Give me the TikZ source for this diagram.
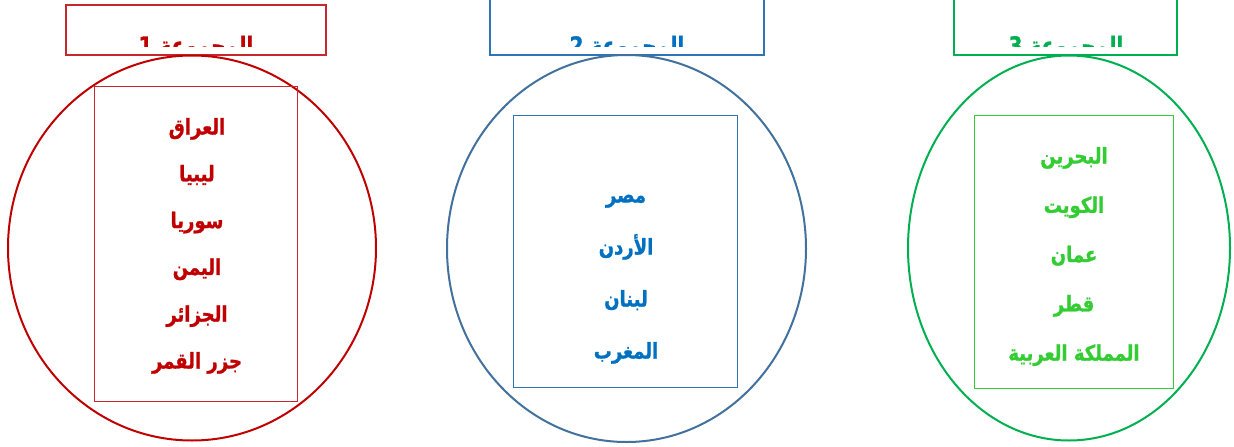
\documentclass[tikz,border=0pt]{standalone}
\usepackage{fontspec}
\usepackage{graphicx}
\newfontfamily\arabicfont[Script=Arabic, BoldFeatures={FakeBold=1.2}]{DejaVu Sans}
\TeXXeTstate=1
\usetikzlibrary{shapes.geometric}

\definecolor{grpred}{HTML}{C00000}
\definecolor{grpredbox}{HTML}{C8282D}
\definecolor{grpblue}{HTML}{0070C0}
\definecolor{grpbluebox}{HTML}{2E75B6}
\definecolor{grpbluering}{HTML}{41719C}
\definecolor{grpgreen}{HTML}{00B050}
\definecolor{grpgreenlist}{HTML}{33CC33}

% taller Arabic words, as in the slide
\newcommand{\tallword}[1]{\scalebox{1}[1.2]{\beginR#1\endR}}

\begin{document}
\begin{tikzpicture}[
    x=1pt, y=-1pt,
    ring/.style={ellipse, draw, line width=2pt, inner sep=0pt, outer sep=0pt},
    framebox/.style={rectangle, draw, line width=1.3pt, inner sep=0pt, outer sep=0pt},
    listbox/.style={rectangle, draw, line width=1pt, inner sep=0pt, outer sep=0pt},
    grptitle/.style={font=\arabicfont\bfseries\fontsize{20}{24}\selectfont, anchor=base, inner sep=0pt},
    grpitem/.style={font=\arabicfont\bfseries\fontsize{18}{21}\selectfont, text height=16pt, text depth=5pt, inner sep=0pt}
]
\useasboundingbox (0,0) rectangle (1234,447);

% ------------------------
% Group 1
% ------------------------
\begin{scope}
  \clip (66,5) rectangle (326,46);
  \node[grptitle, text=grpred] (grp1title) at (196,54) {\tallword{المجموعة 1}};
\end{scope}
\node[framebox, draw=grpredbox, minimum width=260pt, minimum height=50pt] (grp1top) at (196,30) {};
\node[ring, draw=grpred, minimum width=368pt, minimum height=385pt] (grp1ring) at (192,248) {};
\node[listbox, draw=grpredbox, minimum width=203pt, minimum height=315pt] (grp1list) at (195.5,243.5) {};
\foreach \country [count=\i] in {العراق, ليبيا, سوريا, اليمن, الجزائر, جزر القمر}
  \node[grpitem, text=grpred] (grp1item\i) at (197,{129+46.8*(\i-1)}) {\tallword{\country}};

% ------------------------
% Group 2
% ------------------------
\begin{scope}
  \clip (490,0) rectangle (764,46);
  \node[grptitle, text=grpblue] (grp2title) at (627,54) {\tallword{المجموعة 2}};
\end{scope}
\node[framebox, draw=grpbluebox, minimum width=274pt, minimum height=70pt] (grp2top) at (627,20) {};
\node[ring, draw=grpbluering, minimum width=359pt, minimum height=387pt] (grp2ring) at (626.5,248.5) {};
\node[listbox, draw=grpbluebox, minimum width=224pt, minimum height=272pt] (grp2list) at (625,251) {};
\foreach \country [count=\i] in {مصر, الأردن, لبنان, المغرب}
  \node[grpitem, text=grpblue] (grp2item\i) at (626,{197+52*(\i-1)}) {\tallword{\country}};

% ------------------------
% Group 3
% ------------------------
\begin{scope}
  \clip (954,0) rectangle (1177,46);
  \node[grptitle, text=grpgreen] (grp3title) at (1066,54) {\tallword{المجموعة 3}};
\end{scope}
\node[framebox, draw=grpgreen, minimum width=223pt, minimum height=70pt] (grp3top) at (1065.5,20) {};
\node[ring, draw=grpgreen, minimum width=322pt, minimum height=385pt] (grp3ring) at (1069,248) {};
\node[listbox, draw=grpgreenlist, minimum width=199pt, minimum height=273pt] (grp3list) at (1073.5,251.5) {};
\foreach \country [count=\i] in {البحرين, الكويت, عمان, قطر, المملكة العربية}
  \node[grpitem, text=grpgreenlist] (grp3item\i) at (1074,{158+49.3*(\i-1)}) {\tallword{\country}};

\end{tikzpicture}
\end{document}
